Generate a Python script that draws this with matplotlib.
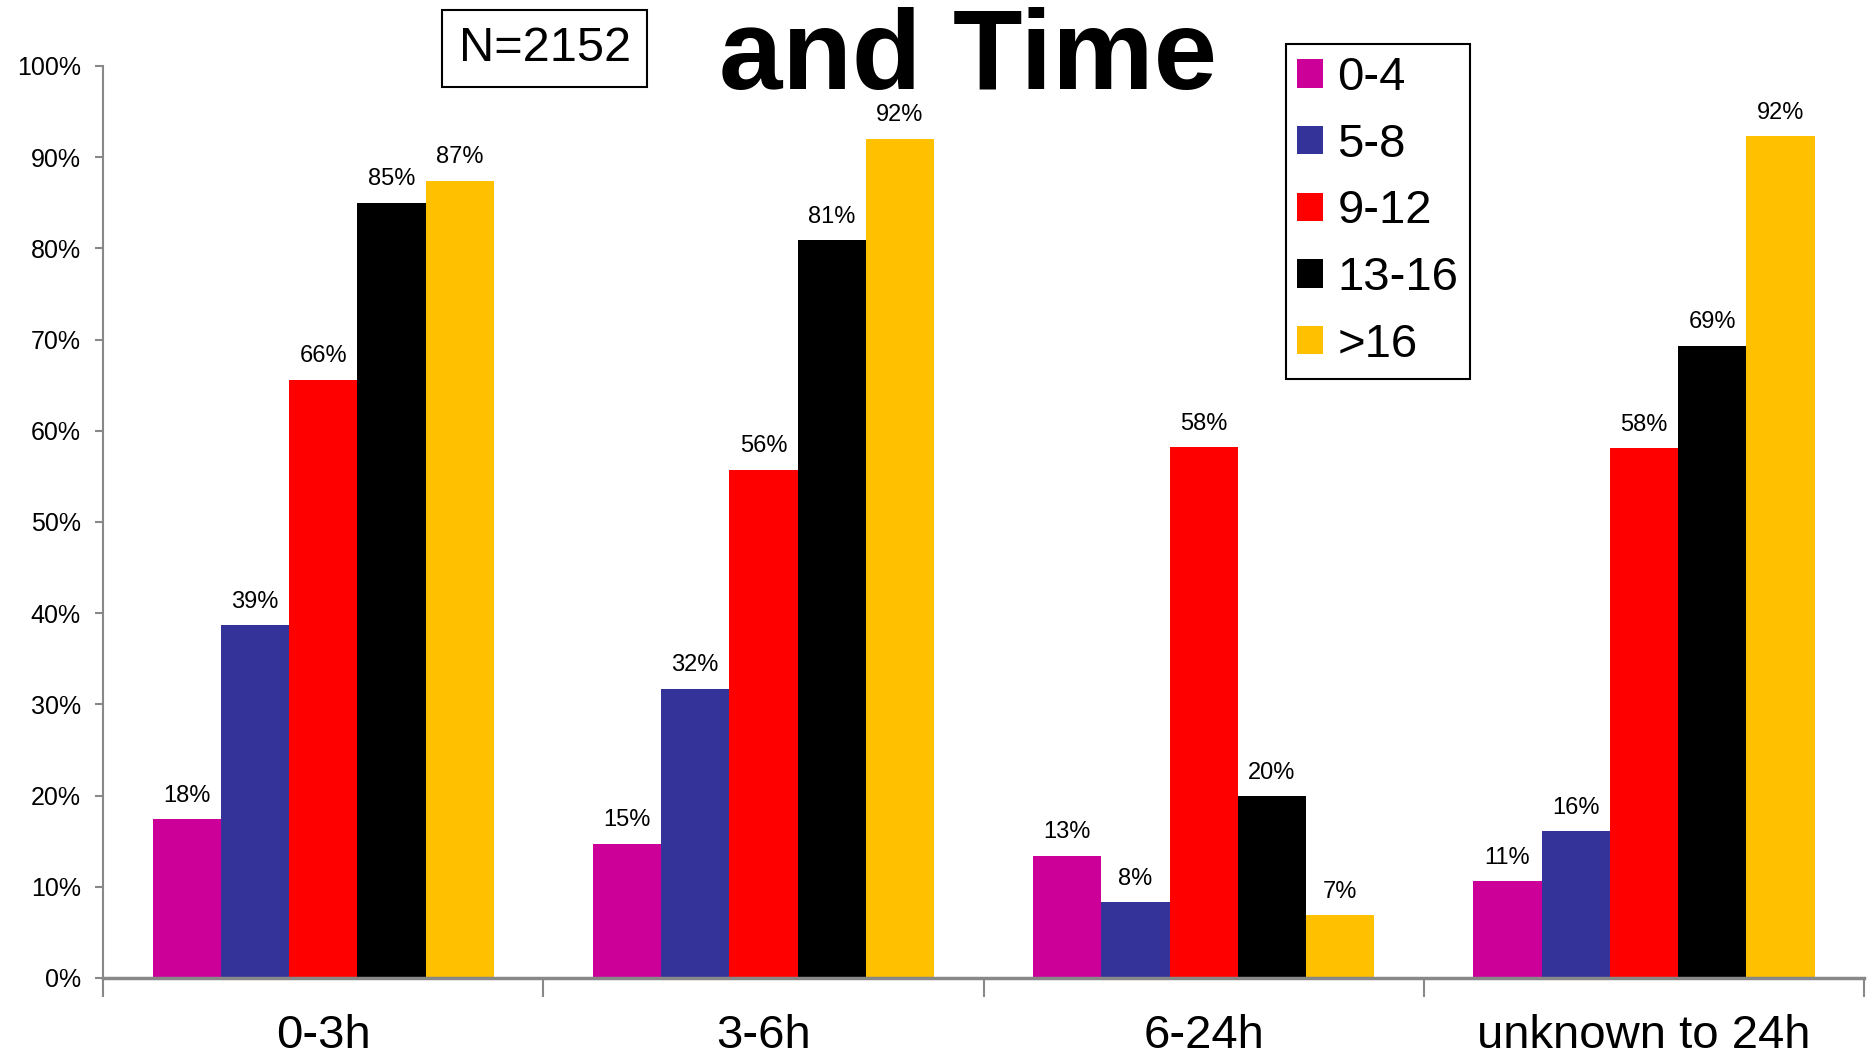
import matplotlib
matplotlib.use('Agg')
import matplotlib.pyplot as plt
import numpy as np

plt.rcParams['font.family'] = ['Liberation Sans', 'DejaVu Sans']

# time windows on the x axis
groups = ['0-3h', '3-6h', '6-24h', 'unknown to 24h']
# score bands (legend)
series = ['0-4', '5-8', '9-12', '13-16', '>16']
colors = ['#CC0099', '#333399', '#FF0000', '#000000', '#FFC000']

# percentage per band, one list per band, in the order of groups
vals_0_4 = [17.4, 14.7, 13.4, 10.6]
vals_5_8 = [38.7, 31.7, 8.3, 16.1]
vals_9_12 = [65.6, 55.7, 58.2, 58.1]
vals_13_16 = [85.0, 80.9, 19.9, 69.3]
vals_gt16 = [87.4, 92.0, 6.9, 92.3]
values = [vals_0_4, vals_5_8, vals_9_12, vals_13_16, vals_gt16]

# labels as printed on the bars
labels_0_4 = ['18%', '15%', '13%', '11%']
labels_5_8 = ['39%', '32%', '8%', '16%']
labels_9_12 = ['66%', '56%', '58%', '58%']
labels_13_16 = ['85%', '81%', '20%', '69%']
labels_gt16 = ['87%', '92%', '7%', '92%']
bar_labels = [labels_0_4, labels_5_8, labels_9_12, labels_13_16, labels_gt16]

fig = plt.figure(figsize=(18.74, 10.56), dpi=100)
ax = fig.add_axes([0.055, 0.0739, 0.9397, 0.8636])

x = np.arange(len(groups))
width = 0.155
for i, (name, vals, labs) in enumerate(zip(series, values, bar_labels)):
    pos = x + (i - 2) * width
    ax.bar(pos, vals, width, color=colors[i], label=name)
    for px, v, lab in zip(pos, vals, labs):
        ax.annotate(lab, (px, v), xytext=(0, 9), textcoords='offset points',
                    ha='center', va='bottom', fontsize=17)

ax.set_xlim(-0.5, len(groups) - 0.5)
ax.set_ylim(0, 100)
ax.set_yticks(np.arange(0, 101, 10))
ax.set_yticklabels(['%d%%' % t for t in range(0, 101, 10)], fontsize=18)

# group boundary ticks, labels at centres
ax.set_xticks(np.arange(-0.5, len(groups), 1.0))
ax.set_xticklabels([])
ax.set_xticks(x, minor=True)
ax.set_xticklabels(groups, minor=True, fontsize=34)
ax.tick_params(axis='x', which='major', length=14, width=1.5, color='#888888', direction='out')
ax.tick_params(axis='x', which='minor', length=0, pad=26)
ax.tick_params(axis='y', length=6, width=1.5, color='#888888', pad=10)

for s in ['top', 'right']:
    ax.spines[s].set_visible(False)
ax.spines['left'].set_color('#888888')
ax.spines['left'].set_linewidth(1.5)
ax.spines['bottom'].set_color('#888888')
ax.spines['bottom'].set_linewidth(2.5)

leg = ax.legend(loc='upper left', bbox_to_anchor=(0.686, 0.958), bbox_transform=fig.transFigure,
                borderaxespad=0, fontsize=34, handlelength=0.55, handleheight=0.55,
                handletextpad=0.3, labelspacing=0.48, borderpad=0.25, fancybox=False,
                framealpha=1)
leg.get_frame().set_edgecolor('black')
leg.get_frame().set_linewidth(1.5)

fig.text(0.2906, 0.954, 'N=2152', fontsize=35, ha='center', va='center',
         bbox=dict(boxstyle='square,pad=0.33', fc='white', ec='black', lw=1.5))
fig.text(0.5165, 0.916, 'and Time', fontsize=82, fontweight='bold', ha='center', va='baseline')

fig.savefig('out.png', dpi=100)
